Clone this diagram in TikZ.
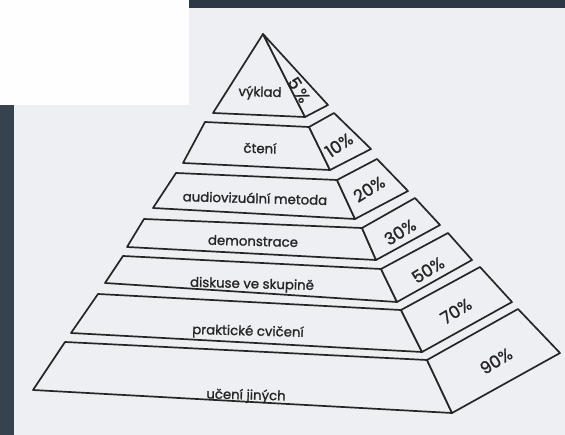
\documentclass[tikz,border=0pt]{standalone}
\usepackage{fontspec}
\setmainfont{Poppins}
\newfontfamily\labfont[FakeBold=1.3]{Poppins}
\definecolor{paper}{HTML}{EEEFF3}
\definecolor{slate}{HTML}{36424E}
\definecolor{slatetop}{HTML}{2C3846}
\definecolor{ink}{HTML}{262626}
\tikzset{
  face/.style={draw=ink, line width=1.7pt, line join=round, fill=paper},
  lvl/.style={font=\labfont\fontsize{13.3}{14}\selectfont, text=ink, inner sep=0pt, rotate=-1.5},
  pct/.style={font=\labfont\fontsize{17}{18}\selectfont, text=ink, inner sep=0pt},
}
\begin{document}
\begin{tikzpicture}[x=1pt,y=-1pt]
\useasboundingbox (0,0) rectangle (565,435);
% background
\fill[slate] (0,0) rectangle (565,435);
\fill[slatetop] (189,0) rectangle (565,8);
\fill[paper] (14,8) rectangle (565,435);
\fill[white!97!paper] (0,0) rectangle (189,105);
% tier 1
\draw[face] (263,34) -- (305,117) -- (213,113) -- cycle;
\draw[face] (263,34) -- (328,105) -- (305,117) -- cycle;
% tier 2
\draw[face] (205,122) -- (309,127) -- (330,170) -- (183,163) -- cycle;
\draw[face] (309,127) -- (334,113) -- (371,149) -- (330,170) -- cycle;
% tier 3
\draw[face] (176,173) -- (337,180) -- (355,219) -- (153,208) -- cycle;
\draw[face] (337,180) -- (377,159) -- (408,191) -- (355,219) -- cycle;
% tier 4
\draw[face] (144,219) -- (362,228) -- (376,260) -- (127,247) -- cycle;
\draw[face] (362,228) -- (415,198) -- (440,225) -- (376,260) -- cycle;
% tier 5
\draw[face] (123,256) -- (381,269) -- (397,302) -- (105,283) -- cycle;
\draw[face] (381,269) -- (448,233) -- (472,260) -- (397,302) -- cycle;
% tier 6
\draw[face] (98,294) -- (401,310) -- (422,352) -- (71,333) -- cycle;
\draw[face] (401,310) -- (480,267) -- (512,302) -- (422,352) -- cycle;
% tier 7
\draw[face] (65,342) -- (427,360) -- (452,413) -- (33,390) -- cycle;
\draw[face] (427,360) -- (518,309) -- (560,353) -- (452,413) -- cycle;
% labels
\node[lvl] (t1) at (260,93) {výklad};
\node[lvl] (t2) at (260,148) {čtení};
\node[lvl] (t3) at (255,198) {audiovizuální metoda};
\node[lvl] (t4) at (253,241) {demonstrace};
\node[lvl] (t5) at (252,285) {diskuse ve skupině};
\node[lvl] (t6) at (248,332) {praktické cvičení};
\node[lvl] (t7) at (246,396) {učení jiných};
\node[pct, font=\labfont\fontsize{17}{18}\selectfont, rotate=-58] (p1) at (299,90) {5\,\%};
\node[pct, rotate=34] (p2) at (339,145) {10\%};
\node[pct, rotate=32] (p3) at (369,189) {20\%};
\node[pct, rotate=32] (p4) at (400,232) {30\%};
\node[pct, rotate=32] (p5) at (428,270) {50\%};
\node[pct, rotate=32] (p6) at (456,311) {70\%};
\node[pct, rotate=32] (p7) at (496,361) {90\%};
\end{tikzpicture}
\end{document}
